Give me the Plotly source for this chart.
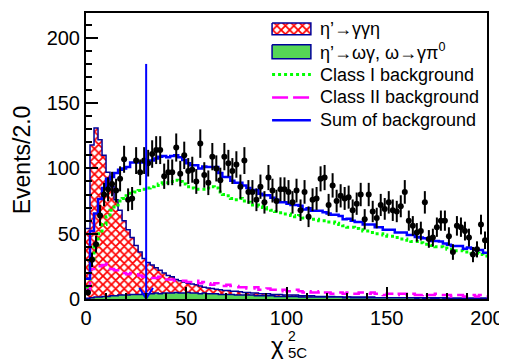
import numpy as np
import plotly.graph_objects as go

# ---------------- data ----------------
bin_edges = np.arange(0, 202, 2.0)          # chi2_5C bins, width 2.0
bin_centers = bin_edges[:-1] + 1.0

data_counts = [5, 30, 42, 64, 80, 84, 88, 83, 92, 107,
               76, 77, 106, 97, 106, 104, 111, 114, 114, 94,
               97, 97, 116, 96, 110, 98, 99, 90, 119, 95,
               89, 109, 100, 91, 109, 104, 98, 103, 86, 106,
               82, 82, 76, 86, 74, 93, 83, 75, 84, 84,
               82, 74, 83, 68, 82, 63, 76, 77, 92, 93,
               72, 87, 75, 79, 77, 78, 68, 73, 80, 61,
               80, 67, 62, 72, 69, 74, 68, 67, 71, 82,
               60, 56, 51, 52, 74, 46, 47, 55, 60, 60,
               48, 36, 56, 55, 52, 47, 34, 38, 57, 45]

etap_ggeta = [54, 118, 131, 122, 110, 97, 86, 76, 68, 60,
              53, 47, 41, 36, 31, 28, 26, 24, 22, 20,
              18, 17, 15, 14, 13, 12, 11.5, 11, 10, 9,
              8.5, 8, 7.5, 7, 6.5, 6.5, 6, 6, 5.5, 5,
              5, 4.5, 4.5, 4, 4, 4, 3.5, 3.5, 3.5, 3,
              3, 3, 3, 2.5, 2.5, 2.5, 2.5, 2, 2, 2,
              2, 2, 1.5, 1.5, 1.5, 1.5, 1.5, 1.5, 1.5, 1.5,
              1.5, 1.5, 1, 1, 1, 1, 1, 1, 1, 1,
              1, 1, 1, 1, 1, 1, 1, 1, 1, 1,
              0.5, 0.5, 0.5, 0.5, 0.5, 0.5, 0.5, 0.5, 0.5, 0.5]

omega_gamma = [0.5, 1, 1.5, 1.5, 2, 2, 2.5, 2.5, 3, 3,
               3, 3.5, 3.5, 3.5, 4, 4, 4, 4.5, 4, 4.5,
               4.5, 4.5, 5, 4.5, 4.5, 5, 4.5, 4.5, 4, 4.5,
               4, 4, 4, 3.5, 3.5, 3.5, 3.5, 3, 3, 3,
               3, 3, 2.5, 2.5, 2.5, 2.5, 2.5, 2, 2, 2,
               2, 2, 2, 1.5, 1.5, 1.5, 1.5, 1.5, 1.5, 1.5,
               1.5, 1.5, 1.5, 1.5, 1, 1.5, 1, 1, 1, 1,
               1, 1, 1, 1, 1, 1, 1, 1, 1, 1,
               1, 1, 0.5, 1, 0.5, 1, 0.5, 0.5, 1, 0.5,
               0.5, 0.5, 0.5, 0.5, 0.5, 0.5, 0.5, 0.5, 0.5, 0.5]

class1_bkg = [8, 28, 40, 50, 57, 63, 68, 72, 75, 77,
              79, 81, 82, 83, 84, 85, 86, 87, 88, 89,
              89, 90, 91, 90, 88, 86, 85, 84, 84, 84,
              85, 86, 85, 82, 80, 79, 77, 76, 77, 75,
              74, 72, 72, 71, 70, 69, 68, 67, 66, 65,
              65, 64, 63, 64, 62, 62, 61, 61, 60, 60,
              59, 59, 58, 57, 56, 55, 55, 54, 53, 52,
              52, 51, 50, 50, 49, 48, 48, 47, 46, 46,
              45, 44, 44, 43, 42, 42, 41, 40, 40, 39,
              38, 38, 37, 37, 36, 36, 35, 35, 34, 33]

class2_bkg = [7, 23, 24, 25, 26, 27, 23, 22, 21, 20,
              19, 20, 19, 18, 17, 17, 16, 16, 17, 16,
              15, 15, 14, 14, 14, 13, 13, 14, 12, 13,
              12, 11, 12, 11, 10, 11, 10, 10, 9, 9,
              8, 8, 9, 7, 7, 8, 7, 7, 6, 7,
              6, 6, 7, 6, 5, 6, 5, 5, 6, 5,
              5, 4, 5, 5, 4, 5, 4, 4, 5, 4,
              4, 5, 4, 4, 3, 4, 4, 3, 4, 4,
              3, 4, 3, 3, 4, 3, 3, 4, 3, 3,
              3, 2, 3, 3, 2, 3, 3, 2, 3, 2]

# sum of backgrounds = Class I + Class II + peaking (omega gamma)
sum_bkg = list(np.array(class1_bkg) + np.array(class2_bkg) + np.array(omega_gamma))

CUT_VALUE = 30.0       # chi2 cut shown by the arrow
CUT_LINE_TOP = 180.0

x_ticks = [0, 50, 100, 150, 200]
y_ticks = [0, 50, 100, 150, 200]

# ---------------- styles ----------------
FONT = "Liberation Sans"
NAVY = "#000099"
RED = "#ff0000"
GREEN_FILL = "#56d656"
GREEN_LINE = "#00ff00"
MAGENTA = "#ff00ff"
BLUE = "#0000ff"
DASH_MAG = "12px,6px"
HATCH = dict(shape="x", fgcolor=RED, fgopacity=1, bgcolor="white", size=6, solidity=0.5)

# the page body has an 8px margin: the figure is shifted by it on screen
OFF = 8
W, H = 507 - OFF, 360 - OFF
# plot area in screen pixels
PX0, PX1, PY0, PY1 = 86, 489, 11, 299
ML, MT = PX0 - OFF, PY0 - OFF
MR, MB = W - (PX1 - OFF), H - (PY1 - OFF)
PW, PH = PX1 - PX0, PY1 - PY0


def step(vals):
    return list(bin_edges), list(vals) + [vals[-1]]


fig = go.Figure()

sx, sy = step(etap_ggeta)
fig.add_trace(go.Scatter(x=sx, y=sy, mode="lines", line=dict(shape="hv", color=NAVY, width=1.5),
                         fill="tozeroy", fillpattern=HATCH,
                         showlegend=False, hoverinfo="skip"))

sx, sy = step(omega_gamma)
fig.add_trace(go.Scatter(x=sx, y=sy, mode="lines", line=dict(shape="hv", color=NAVY, width=1.5),
                         fill="tozeroy", fillcolor=GREEN_FILL, showlegend=False, hoverinfo="skip"))

sx, sy = step(class1_bkg)
fig.add_trace(go.Scatter(x=sx, y=sy, mode="lines",
                         line=dict(shape="hv", color=GREEN_LINE, width=3, dash="dot"),
                         showlegend=False, hoverinfo="skip"))

sx, sy = step(class2_bkg)
fig.add_trace(go.Scatter(x=sx, y=sy, mode="lines",
                         line=dict(shape="hv", color=MAGENTA, width=2.5, dash=DASH_MAG),
                         showlegend=False, hoverinfo="skip"))

sx, sy = step(sum_bkg)
fig.add_trace(go.Scatter(x=sx, y=sy, mode="lines",
                         line=dict(shape="hv", color=BLUE, width=2.5),
                         showlegend=False, hoverinfo="skip"))

# data points with sqrt(N) errors
fig.add_trace(go.Scatter(x=bin_centers, y=data_counts, mode="markers",
                         marker=dict(color="black", size=6),
                         error_y=dict(type="data", array=list(np.sqrt(data_counts)),
                                      color="black", thickness=2, width=0),
                         showlegend=False, hoverinfo="skip"))

# cut arrow
AH_W, AH_L = 3.4, 8.5
fig.add_trace(go.Scatter(x=[CUT_VALUE, CUT_VALUE], y=[0, CUT_LINE_TOP], mode="lines",
                         line=dict(color=BLUE, width=2), showlegend=False, hoverinfo="skip"))
fig.add_trace(go.Scatter(x=[CUT_VALUE - AH_W, CUT_VALUE, CUT_VALUE + AH_W], y=[AH_L, 0.3, AH_L],
                         mode="lines", line=dict(color=BLUE, width=2),
                         showlegend=False, hoverinfo="skip"))

# ---------------- manual legend (overlay axes in plot-fraction units) ----------------
def u(px):
    """screen x pixel -> fraction of plot width"""
    return (px - PX0) / PW


def v(py):
    """screen y pixel -> fraction of plot height"""
    return (PY1 - py) / PH


bx0, bx1 = 273, 312
rows = [27, 50, 73, 96, 119]
labels = ["η’→γγη", "η’→ωγ, ω→γπ<sup>0</sup>", "Class I background",
          "Class II background", "Sum of background"]

r = rows[0]
fig.add_trace(go.Scatter(x=[u(bx0), u(bx1), u(bx1), u(bx0), u(bx0)],
                         y=[v(r - 6), v(r - 6), v(r + 6), v(r + 6), v(r - 6)],
                         xaxis="x2", yaxis="y2", mode="lines", fill="toself",
                         line=dict(color=NAVY, width=1.5), fillpattern=HATCH,
                         showlegend=False, hoverinfo="skip"))
r = rows[1]
fig.add_trace(go.Scatter(x=[u(bx0), u(bx1), u(bx1), u(bx0), u(bx0)],
                         y=[v(r - 7), v(r - 7), v(r + 7), v(r + 7), v(r - 7)],
                         xaxis="x2", yaxis="y2", mode="lines", fill="toself", fillcolor=GREEN_FILL,
                         line=dict(color=NAVY, width=1.5), showlegend=False, hoverinfo="skip"))
for r, col, dash, wd in [(rows[2], GREEN_LINE, "dot", 3), (rows[3], MAGENTA, "16px,5px", 2.5),
                         (rows[4], BLUE, "solid", 2.5)]:
    fig.add_trace(go.Scatter(x=[u(bx0), u(bx1)], y=[v(r), v(r)], xaxis="x2", yaxis="y2",
                             mode="lines", line=dict(color=col, width=wd, dash=dash),
                             showlegend=False, hoverinfo="skip"))

annotations = []
for r, t in zip(rows, labels):
    annotations.append(dict(x=u(319), y=v(r), xref="paper", yref="paper", text=t,
                            xanchor="left", yanchor="middle", showarrow=False,
                            font=dict(family=FONT, size=18, color="black")))

# axis titles
annotations.append(dict(x=u(22), y=v(159), xref="paper", yref="paper", text="Events/2.0",
                        textangle=-90, showarrow=False, xanchor="center", yanchor="middle",
                        font=dict(family=FONT, size=23, color="black")))
annotations.append(dict(x=u(278), y=v(346), xref="paper", yref="paper", text="χ",
                        showarrow=False, xanchor="center", yanchor="middle",
                        font=dict(family=FONT, size=24, color="black")))
annotations.append(dict(x=u(293), y=v(336), xref="paper", yref="paper", text="2",
                        showarrow=False, xanchor="center", yanchor="middle", borderpad=0,
                        font=dict(family=FONT, size=14, color="black")))
annotations.append(dict(x=u(288), y=v(353), xref="paper", yref="paper", text="5C",
                        showarrow=False, xanchor="left", yanchor="middle", borderpad=0,
                        font=dict(family=FONT, size=15, color="black")))

axis_common = dict(showline=True, linecolor="black", linewidth=2, mirror=True,
                   ticks="inside", ticklen=12, tickwidth=1.5, tickcolor="black",
                   showgrid=False, zeroline=False,
                   tickfont=dict(family=FONT, size=20, color="black"),
                   minor=dict(dtick=10, ticks="inside", ticklen=6, tickwidth=1.5, tickcolor="black",
                              showgrid=False))

fig.update_layout(
    width=W, height=H,
    margin=dict(l=ML, r=MR, t=MT, b=MB),
    paper_bgcolor="white", plot_bgcolor="white",
    showlegend=False,
    xaxis=dict(range=[0, 200], tickvals=x_ticks, ticktext=[str(t) for t in x_ticks], **axis_common),
    yaxis=dict(range=[0, 219], tickvals=y_ticks, ticktext=[str(t) for t in y_ticks], **axis_common),
    xaxis2=dict(range=[0, 1], domain=[0, 1], overlaying="x", visible=False, anchor="y2"),
    yaxis2=dict(range=[0, 1], domain=[0, 1], overlaying="y", visible=False, anchor="x2"),
    annotations=annotations,
)

fig.write_html("out.html")
